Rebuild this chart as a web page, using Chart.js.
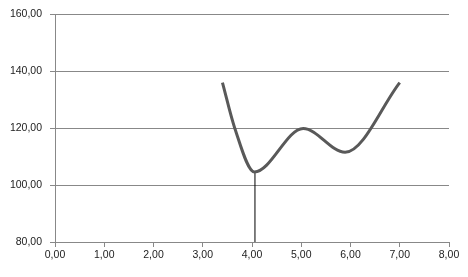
<!DOCTYPE html>
<html>
<head>
<meta charset="utf-8">
<script src="https://cdn.jsdelivr.net/npm/chart.js@4/dist/chart.umd.min.js"></script>
<style>
  html, body { margin: 0; padding: 0; background: #ffffff; }
  #wrap { width: 468px; height: 277px; position: relative; }
</style>
</head>
<body>
<div id="wrap"><canvas id="c" width="468" height="277"></canvas></div>
<script>
const curveX = [3.40, 3.65, 4.05, 5.04, 5.89, 7.00];
const curveY = [136.0, 120.0, 104.6, 119.9, 111.5, 136.0];
const markerX = [4.06, 4.06];
const markerY = [80.0, 104.6];
const xTickLabels = ['0,00', '1,00', '2,00', '3,00', '4,00', '5,00', '6,00', '7,00', '8,00'];
const yTickLabels = ['80,00', '100,00', '120,00', '140,00', '160,00'];

const curveData = curveX.map((x, i) => ({ x: x, y: curveY[i] }));
const markerData = markerX.map((x, i) => ({ x: x, y: markerY[i] }));

const font = { family: 'Liberation Sans', size: 10.5 };

new Chart(document.getElementById('c'), {
  type: 'scatter',
  data: {
    datasets: [
      {
        data: curveData,
        showLine: true,
        borderColor: '#595959',
        borderWidth: 3,
        pointRadius: 0,
        cubicInterpolationMode: 'monotone',
        fill: false
      },
      {
        data: markerData,
        showLine: true,
        borderColor: '#000000',
        borderWidth: 1,
        pointRadius: 0,
        tension: 0,
        fill: false
      }
    ]
  },
  options: {
    responsive: false,
    animation: false,
    devicePixelRatio: 1,
    layout: { padding: { top: 14, right: 19, left: 0, bottom: 0 } },
    plugins: { legend: { display: false }, tooltip: { enabled: false } },
    scales: {
      x: {
        type: 'linear',
        min: 0, max: 8,
        ticks: {
          stepSize: 1,
          color: '#222',
          font: font,
          padding: 2,
          maxRotation: 0,
          callback: (v, i) => xTickLabels[i]
        },
        grid: { drawOnChartArea: false, drawTicks: true, tickLength: 5, color: '#888888' },
        border: { display: true, color: '#888888', width: 1 },
        afterFit: (s) => { s.height = 35; }
      },
      y: {
        type: 'linear',
        min: 80, max: 160,
        ticks: {
          stepSize: 20,
          color: '#222',
          font: font,
          padding: 8,
          callback: (v, i) => yTickLabels[i]
        },
        grid: { drawOnChartArea: true, drawTicks: true, tickLength: 5, color: '#888888' },
        border: { display: true, color: '#888888', width: 1 },
        afterFit: (s) => { s.width = 55; }
      }
    }
  }
});
</script>
</body>
</html>
